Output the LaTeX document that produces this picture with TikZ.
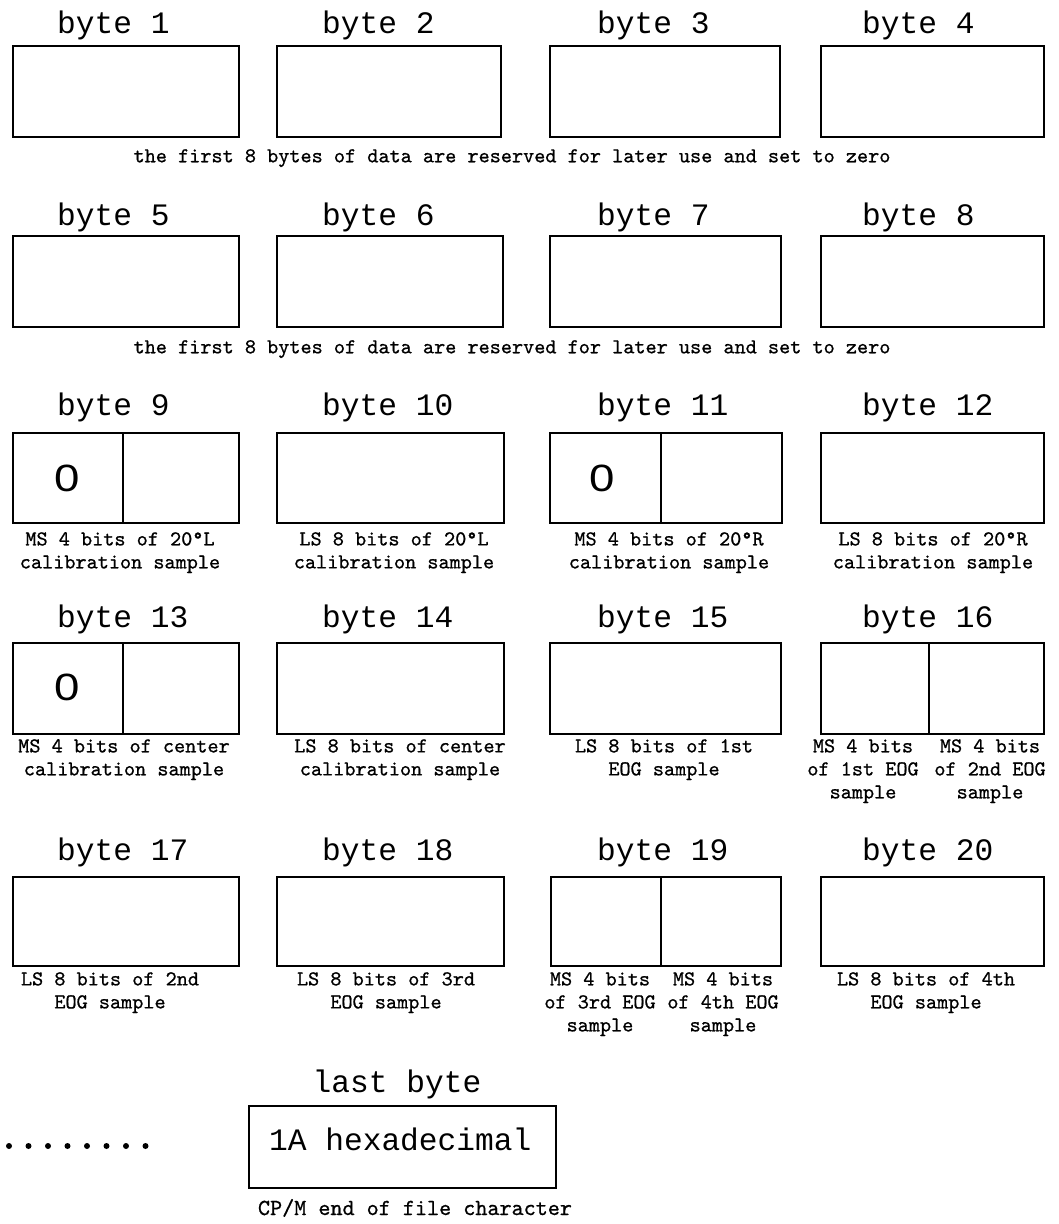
\documentclass[tikz,border=0pt]{standalone}
\usepackage{fontspec}
\newfontfamily\titlefont{Liberation Mono}
\newfontfamily\capfont{lmmono10-regular.otf}[FakeBold=0.8]
\newfontfamily\zerofont{Liberation Sans}
\begin{document}
\begin{tikzpicture}[x=1pt,y=-1pt,
  bx/.style={draw, line width=1.6pt, anchor=north west, inner sep=0, minimum height=91pt},
  ttl/.style={font=\titlefont\fontsize{31.2}{34}\selectfont, anchor=base west, inner sep=0},
  captxt/.style={font=\capfont\fontsize{21.2}{23}\selectfont, align=center, anchor=north, inner sep=0, execute at begin node=\strut},
  zro/.style={font=\zerofont\fontsize{38}{40}\selectfont, xscale=1.2, inner sep=0},
  dvd/.style={line width=1.6pt},
  dotm/.style={fill=black}]
\useasboundingbox (0,0) rectangle (1059,1224);
% ---------- row 1 ----------
\node[ttl] (t1) at (57,33) {byte 1};
\node[ttl] (t2) at (322,33) {byte 2};
\node[ttl] (t3) at (597,33) {byte 3};
\node[ttl] (t4) at (862,33) {byte 4};
\node[bx, minimum width=226pt] (b1) at (12,45) {};
\node[bx, minimum width=224pt] (b2) at (276,45) {};
\node[bx, minimum width=230pt] (b3) at (549,45) {};
\node[bx, minimum width=223pt] (b4) at (820,45) {};
\node[captxt] (c1) at (512,146) {the first 8 bytes of data are reserved for later use and set to zero};
% ---------- row 2 ----------
\node[ttl] (t5) at (57,225) {byte 5};
\node[ttl] (t6) at (322,225) {byte 6};
\node[ttl] (t7) at (597,225) {byte 7};
\node[ttl] (t8) at (862,225) {byte 8};
\node[bx, minimum width=226pt] (b5) at (12,235) {};
\node[bx, minimum width=226pt] (b6) at (276,235) {};
\node[bx, minimum width=231pt] (b7) at (549,235) {};
\node[bx, minimum width=223pt] (b8) at (820,235) {};
\node[captxt] (c2) at (512,337) {the first 8 bytes of data are reserved for later use and set to zero};
% ---------- row 3 ----------
\node[ttl] (t9) at (57,415) {byte 9};
\node[ttl] (t10) at (322,415) {byte 10};
\node[ttl] (t11) at (597,415) {byte 11};
\node[ttl] (t12) at (862,415) {byte 12};
\node[bx, minimum width=226pt, minimum height=90pt] (b9) at (12,432) {};
\node[bx, minimum width=227pt, minimum height=90pt] (b10) at (276,432) {};
\node[bx, minimum width=232pt, minimum height=90pt] (b11) at (549,432) {};
\node[bx, minimum width=223pt, minimum height=90pt] (b12) at (820,432) {};
\draw[dvd] ([xshift=111pt]b9.north west) -- ([xshift=111pt]b9.south west);
\draw[dvd] ([xshift=112pt]b11.north west) -- ([xshift=112pt]b11.south west);
\node[zro] (z9) at (67,478) {0};
\node[zro] (z11) at (602,478) {0};
\node[captxt] (c9) at (120,532) {MS 4 bits of 20°L\\calibration sample};
\node[captxt] (c10) at (394,532) {LS 8 bits of 20°L\\calibration sample};
\node[captxt] (c11) at (669,532) {MS 4 bits of 20°R\\calibration sample};
\node[captxt] (c12) at (933,532) {LS 8 bits of 20°R\\calibration sample};
% ---------- row 4 ----------
\node[ttl] (t13) at (57,627) {byte 13};
\node[ttl] (t14) at (322,627) {byte 14};
\node[ttl] (t15) at (597,627) {byte 15};
\node[ttl] (t16) at (862,627) {byte 16};
\node[bx, minimum width=226pt] (b13) at (12,642) {};
\node[bx, minimum width=227pt] (b14) at (276,642) {};
\node[bx, minimum width=231pt] (b15) at (549,642) {};
\node[bx, minimum width=223pt] (b16) at (820,642) {};
\draw[dvd] ([xshift=111pt]b13.north west) -- ([xshift=111pt]b13.south west);
\draw[dvd] ([xshift=109pt]b16.north west) -- ([xshift=109pt]b16.south west);
\node[zro] (z13) at (67,687) {0};
\node[captxt] (c13) at (124,739) {MS 4 bits of center\\calibration sample};
\node[captxt] (c14) at (400,739) {LS 8 bits of center\\calibration sample};
\node[captxt] (c15) at (664,739) {LS 8 bits of 1st\\EOG sample};
\node[captxt] (c16a) at (863,739) {MS 4 bits\\of 1st EOG\\sample};
\node[captxt] (c16b) at (990,739) {MS 4 bits\\of 2nd EOG\\sample};
% ---------- row 5 ----------
\node[ttl] (t17) at (57,860) {byte 17};
\node[ttl] (t18) at (322,860) {byte 18};
\node[ttl] (t19) at (597,860) {byte 19};
\node[ttl] (t20) at (862,860) {byte 20};
\node[bx, minimum width=226pt, minimum height=89pt] (b17) at (12,876) {};
\node[bx, minimum width=227pt, minimum height=89pt] (b18) at (276,876) {};
\node[bx, minimum width=230pt, minimum height=89pt] (b19) at (550,876) {};
\node[bx, minimum width=223pt, minimum height=89pt] (b20) at (820,876) {};
\draw[dvd] ([xshift=111pt]b19.north west) -- ([xshift=111pt]b19.south west);
\node[captxt] (c17) at (110,972) {LS 8 bits of 2nd\\EOG sample};
\node[captxt] (c18) at (386,972) {LS 8 bits of 3rd\\EOG sample};
\node[captxt] (c19a) at (600,972) {MS 4 bits\\of 3rd EOG\\sample};
\node[captxt] (c19b) at (723,972) {MS 4 bits\\of 4th EOG\\sample};
\node[captxt] (c20) at (926,972) {LS 8 bits of 4th\\EOG sample};
% ---------- last byte ----------
\foreach \i in {0,...,7} \fill[dotm] (9+\i*19.5,1146) circle (3pt);
\node[ttl, anchor=base] (tl) at (397,1092) {last byte};
\node[bx, minimum width=307pt, minimum height=82pt] (bl) at (248,1105) {};
\node[ttl] (hex) at (269,1150) {1A hexadecimal};
\node[captxt, font=\capfont\fontsize{23}{25}\selectfont, anchor=base] (cl) at (415,1215) {CP/M end of file character};
\end{tikzpicture}
\end{document}
